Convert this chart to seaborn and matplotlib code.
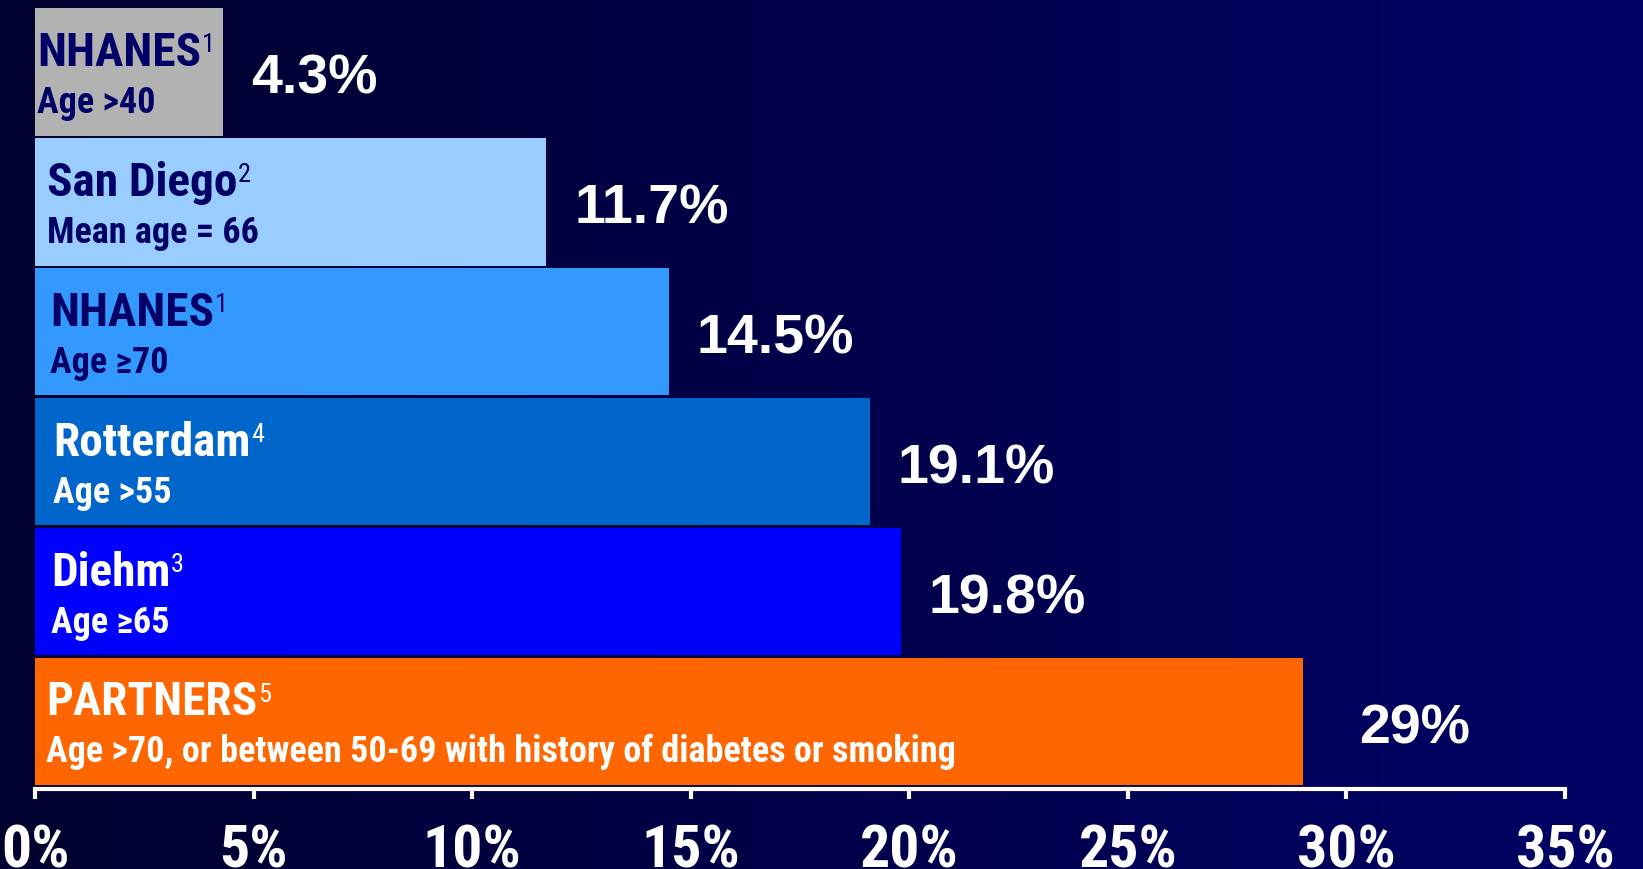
import numpy as np
import pandas as pd
import seaborn as sns
import matplotlib.pyplot as plt
from matplotlib import font_manager as fm
from matplotlib.colors import LinearSegmentedColormap

# chart data, top bar first
studies = ['NHANES', 'San Diego', 'NHANES', 'Rotterdam', 'Diehm', 'PARTNERS']
refs = ['1', '2', '1', '4', '3', '5']
subtitles = ['Age >40', 'Mean age = 66', 'Age \u226570', 'Age >55', 'Age \u226565',
             'Age >70, or between 50-69 with history of diabetes or smoking']
prevalence = [4.3, 11.7, 14.5, 19.1, 19.8, 29]
x_ticks = [0, 5, 10, 15, 20, 25, 30, 35]

bar_colors = ['#b2b2b2', '#99ccff', '#3399ff', '#0066cc', '#0000ff', '#ff6600']
text_colors = ['#000066', '#000066', '#000066', 'white', 'white', 'white']
name_pad = [2, 12, 15, 18, 16, 11]     # px from bar start
value_gap = [28, 28, 28, 28, 28, 56]   # px from bar end

# an Arial Narrow look-alike, whichever is installed
installed = {f.name for f in fm.fontManager.ttflist}
for cand in ['Liberation Sans Narrow', 'Arial Narrow', 'Roboto Condensed', 'Archivo Narrow',
             'PT Sans Narrow', 'Fira Sans Condensed', 'Liberation Sans']:
    if cand in installed:
        narrow_name = cand
        break
narrow = [narrow_name, 'DejaVu Sans']
wide = ['Liberation Sans', 'DejaVu Sans']

df = pd.DataFrame({'key': [s + ' ' + t for s, t in zip(studies, subtitles)],
                   'value': prevalence})

sns.set_theme(style='white')
W, H, DPI = 1643, 869, 100
fig = plt.figure(figsize=(W / DPI, H / DPI), dpi=DPI)

# background gradient, dark navy on the left to blue on the right
bg = fig.add_axes([0, 0, 1, 1], zorder=0)
cmap = LinearSegmentedColormap.from_list('bg', ['#00002e', '#00004a', '#000066'])
bg.imshow(np.linspace(0, 1, 256)[None, :], aspect='auto', cmap=cmap, extent=[0, 1, 0, 1])
bg.set_axis_off()

ax = fig.add_axes([35 / W, 1 - 789 / H, 1530 / W, 782 / H], zorder=1)
ax.set_facecolor('none')

sns.barplot(data=df, x='value', y='key', hue='key', palette=bar_colors, legend=False,
            orient='h', width=0.98, saturation=1, linewidth=0, ax=ax)

ax.set_xlim(0, 35)
ax.set_ylim(5.52, -0.5)
ax.set_xticks(x_ticks)
ax.set_xticklabels([f'{t}%' for t in x_ticks])
ax.set_yticks([])
ax.set_xlabel('')
ax.set_ylabel('')
for s in ['top', 'right', 'left']:
    ax.spines[s].set_visible(False)
ax.spines['bottom'].set_color('white')
ax.spines['bottom'].set_linewidth(3)
ax.tick_params(axis='x', bottom=True, direction='out', length=7, width=3, color='white',
               pad=18, labelcolor='white')
for lab in ax.get_xticklabels():
    lab.set_family(narrow)
    lab.set_fontweight('bold')
    lab.set_fontsize(43)

px = 72 / DPI  # points per pixel
for i, (name, ref, sub, val) in enumerate(zip(studies, refs, subtitles, prevalence)):
    c = text_colors[i]
    t = ax.annotate(name, xy=(0, i), xytext=(name_pad[i] * px, 6 * px),
                    textcoords='offset points', ha='left', va='baseline',
                    color=c, fontsize=34, fontweight='bold', family=narrow)
    ax.annotate(ref, xy=(1, 0.95), xycoords=t, xytext=(0.5, 0), textcoords='offset points',
                ha='left', va='top', color=c, fontsize=19, family=narrow)
    ax.annotate(sub, xy=(0, i), xytext=(name_pad[i] * px, -41 * px),
                textcoords='offset points', ha='left', va='baseline',
                color=c, fontsize=26, fontweight='bold', family=narrow)
    ax.annotate(f'{val:g}%', xy=(val, i), xytext=(value_gap[i] * px, -8 * px),
                textcoords='offset points', ha='left', va='center',
                color='white', fontsize=40, fontweight='bold', family=wide)

fig.savefig('out.png', dpi=DPI)
